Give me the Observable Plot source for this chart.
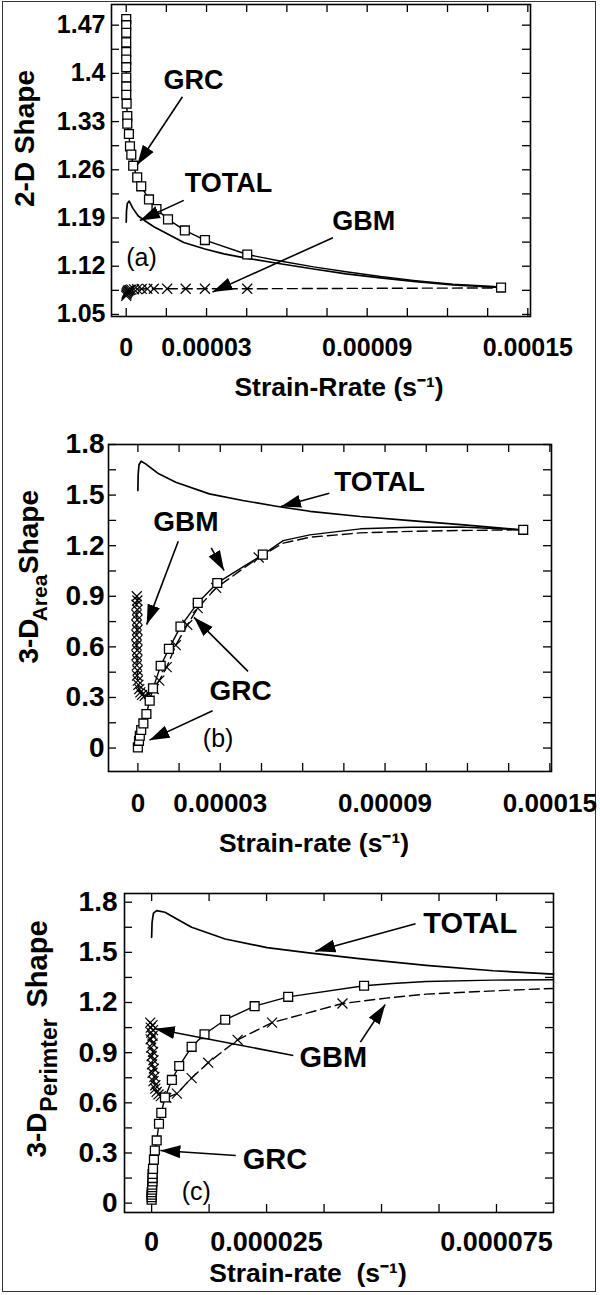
<!DOCTYPE html>
<html><head><meta charset="utf-8">
<script src="https://cdn.jsdelivr.net/npm/d3@7"></script>
<script src="https://cdn.jsdelivr.net/npm/@observablehq/plot@0.6"></script>
<style>
body{margin:0;background:#fff;}
#fig{position:relative;width:600px;height:1295px;background:#fff;overflow:hidden;}
#border{position:absolute;left:2px;top:1px;width:592px;height:1289px;border:1.5px solid #333;}
.panel{position:absolute;left:0;}
</style></head><body><div id="fig"><div id="border"></div></div>
<script>
// ---------- Panel (a): 2-D Shape ----------
const aGrcX = [0,0,0,0,0,0,0,0.00000002,0.00000002,0.00000002,0.00000015,0.0000004,0.0000004,0.000001,0.0000014,0.0000019,0.0000026,0.0000041,0.0000056,0.0000085,0.0000113,0.0000156,0.0000219,0.0000294,0.0000452,0.00014];
const aGrcY = [1.479,1.470,1.459,1.445,1.431,1.420,1.409,1.394,1.381,1.369,1.356,1.338,1.327,1.312,1.294,1.282,1.266,1.249,1.236,1.217,1.203,1.188,1.172,1.158,1.137,1.089];
const aGrcTailX = [0.0000569,0.000070,0.0000821,0.000095,0.0001072,0.000122,0.0001374];
const aGrcTailY = [1.128,1.119,1.112,1.105,1.0995,1.094,1.0905];
const aTotalX = [0,0.0000001,0.0000004,0.0000011,0.0000025,0.0000045,0.0000068,0.0000105,0.0000153,0.0000215,0.0000294,0.0000365,0.0000452,0.0000569,0.000070,0.0000821,0.000095,0.0001072,0.000122,0.0001374,0.00014];
const aTotalY = [1.184,1.200,1.211,1.2145,1.204,1.193,1.1865,1.177,1.167,1.1545,1.145,1.138,1.1315,1.124,1.116,1.109,1.103,1.098,1.093,1.0895,1.089];
const aGbmX = [0,0.0000001,0.0000002,0.0000004,0.0000006,0.0000009,0.0000013,0.0000019,0.0000029,0.0000041,0.0000058,0.0000079,0.0000103,0.0000153,0.0000222,0.0000294,0.0000452];
const aGbmY = [1.077,1.079,1.081,1.0825,1.084,1.085,1.0855,1.086,1.0865,1.0868,1.087,1.0872,1.0873,1.0873,1.0873,1.0873,1.0873];
const aGbmTailX = [0.00014];
const aGbmTailY = [1.0885];
const aXTicks = [0,0.000015,0.00003,0.000045,0.00006,0.000075,0.00009,0.000105,0.00012,0.000135,0.00015];
const aYTicks = [1.05,1.085,1.12,1.155,1.19,1.225,1.26,1.295,1.33,1.365,1.4,1.435,1.47];
const aXLabelVals = [0,0.00003,0.00009,0.00015];
const aXLabels = ["0","0.00003","0.00009","0.00015"];
const aYLabelVals = [1.05,1.12,1.19,1.26,1.33,1.4,1.47];
const aYLabels = ["1.05","1.12","1.19","1.26","1.33","1.4","1.47"];
const aNoteText = ["GRC","TOTAL","GBM"];
const aNoteX = [0.0000251,0.0000382,0.0000887];
const aNoteY = [1.390,1.240,1.185];
const aTag = ["(a)"]; const aTagX = [0.0000057]; const aTagY = [1.132];
const aArrX1 = [0.000021,0.0000215,0.0000772];
const aArrY1 = [1.366,1.2156,1.1614];
const aArrX2 = [0.0000041,0.0000051,0.0000322];
const aArrY2 = [1.267,1.1865,1.0824];

// ---------- Panel (b): 3-D Area Shape ----------
const bGrcX = [0,0.0000004,0.0000007,0.0000012,0.000002,0.0000031,0.0000043,0.0000055,0.0000083,0.0000113,0.0000155,0.0000218,0.0000289,0.0000455,0.0001403];
const bGrcY = [0.004,0.043,0.073,0.107,0.146,0.202,0.281,0.354,0.488,0.588,0.720,0.861,0.979,1.147,1.294];
const bGrcTailX = [0.0000529,0.0000626,0.000081,0.0000993,0.0001176];
const bGrcTailY = [1.230,1.264,1.300,1.309,1.311];
const bTotalX = [0,0.0000001,0.0000004,0.0000012,0.0000028,0.0000076,0.0000138,0.000026,0.0000382,0.0000504,0.0000626,0.000081,0.0000993,0.0001176,0.0001396];
const bTotalY = [1.527,1.62,1.68,1.701,1.685,1.626,1.576,1.507,1.468,1.434,1.404,1.373,1.349,1.325,1.294];
const bGbmX = [-0.0000004,-0.0000002,-0.0000005,-0.0000002,-0.0000005,-0.0000002,-0.0000005,-0.0000002,-0.0000005,-0.0000002,-0.0000005,-0.0000002,-0.0000005,-0.0000002,-0.0000004,-0.0000001,-0.0000003,0,0.0000002,0.0000005,0.0000009,0.0000015,0.0000025,0.000004,0.0000058,0.0000078,0.0000105,0.0000138,0.000018,0.0000218,0.0000285,0.000044];
const bGbmY = [0.90,0.875,0.85,0.82,0.79,0.76,0.73,0.70,0.67,0.64,0.61,0.58,0.55,0.52,0.49,0.46,0.43,0.40,0.375,0.35,0.33,0.315,0.31,0.32,0.35,0.40,0.48,0.61,0.73,0.83,0.95,1.13];
const bGbmTailX = [0.0000529,0.0000626,0.000081,0.0000993,0.0001176,0.0001403];
const bGbmTailY = [1.215,1.250,1.276,1.285,1.290,1.294];
const bXTicks = [0,0.000015,0.00003,0.000045,0.00006,0.000075,0.00009,0.000105,0.00012,0.000135,0.00015];
const bYTicks = [0,0.15,0.3,0.45,0.6,0.75,0.9,1.05,1.2,1.35,1.5,1.65,1.8];
const bXLabelVals = [0,0.00003,0.00009,0.00015];
const bXLabels = ["0","0.00003","0.00009","0.00015"];
const bYLabelVals = [0,0.3,0.6,0.9,1.2,1.5,1.8];
const bYLabels = ["0","0.3","0.6","0.9","1.2","1.5","1.8"];
const bNoteText = ["TOTAL","GBM","GRC"];
const bNoteX = [0.000088,0.0000175,0.0000374];
const bNoteY = [1.580,1.339,0.340];
const bTag = ["(b)"]; const bTagX = [0.0000292]; const bTagY = [0.055];
const bArrX1 = [0.0000697,0.0000147,0.0000267,0.0000401,0.0000272];
const bArrY1 = [1.511,1.226,1.187,0.455,0.221];
const bArrX2 = [0.0000521,0.0000032,0.0000314,0.0000204,0.0000042];
const bArrY2 = [1.432,0.732,1.052,0.775,0.047];

// ---------- Panel (c): 3-D Perimter Shape ----------
const cGrcX = [0,0,0,0,0.0000001,0.0000001,0.0000001,0.0000002,0.0000002,0.0000002,0.0000003,0.0000005,0.0000007,0.0000011,0.0000016,0.0000021,0.0000029,0.0000044,0.000006,0.0000087,0.0000115,0.000016,0.0000224,0.0000297,0.0000462];
const cGrcY = [0.02,0.035,0.05,0.065,0.08,0.095,0.11,0.13,0.15,0.175,0.205,0.26,0.315,0.375,0.475,0.54,0.632,0.737,0.82,0.935,1.01,1.097,1.178,1.234,1.30];
const cGrcTailX = [0.0000524,0.0000597,0.0000743,0.0000874];
const cGrcTailY = [1.314,1.326,1.334,1.336];
const cTotalX = [0,0.0000001,0.0000004,0.0000011,0.0000029,0.0000051,0.0000087,0.000016,0.0000251,0.0000342,0.0000451,0.0000597,0.0000743,0.0000874];
const cTotalY = [1.59,1.68,1.735,1.75,1.74,1.706,1.65,1.58,1.528,1.497,1.462,1.422,1.39,1.37];
const cGbmX = [-0.0000003,0.0000002,-0.0000002,0.0000003,-0.0000001,0.0000002,-0.0000002,0.0000002,-0.0000001,0.0000003,0,0.0000004,0.0000001,0.0000005,0.0000002,0.0000006,0.0000004,0.0000008,0.0000008,0.0000011,0.0000015,0.000002,0.0000032,0.0000055,0.0000087,0.0000123,0.0000187,0.0000262,0.0000415];
const cGbmY = [1.08,1.065,1.05,1.035,1.02,1.0,0.98,0.955,0.93,0.905,0.88,0.855,0.83,0.805,0.78,0.755,0.73,0.705,0.685,0.665,0.65,0.64,0.63,0.655,0.748,0.84,0.977,1.08,1.194];
const cGbmTailX = [0.000051,0.0000597,0.000067,0.0000779,0.0000874];
const cGbmTailY = [1.226,1.25,1.26,1.274,1.284];
const cXTicks = [0,0.0000125,0.000025,0.0000375,0.00005,0.0000625,0.000075];
const cYTicks = [0,0.15,0.3,0.45,0.6,0.75,0.9,1.05,1.2,1.35,1.5,1.65,1.8];
const cXLabelVals = [0,0.000025,0.000075];
const cXLabels = ["0","0.000025","0.000075"];
const cYLabelVals = [0,0.3,0.6,0.9,1.2,1.5,1.8];
const cYLabels = ["0","0.3","0.6","0.9","1.2","1.5","1.8"];
const cNoteText = ["TOTAL","GBM","GRC"];
const cNoteX = [0.0000693,0.0000395,0.0000268];
const cNoteY = [1.673,0.868,0.261];
const cTag = ["(c)"]; const cTagX = [0.0000097]; const cTagY = [0.064];
const cArrX1 = [0.0000574,0.0000308,0.0000454,0.0000183];
const cArrY1 = [1.671,0.883,0.963,0.285];
const cArrX2 = [0.0000356,0.0000007,0.0000508,0.0000019];
const cArrY2 = [1.507,1.043,1.188,0.315];

// ---------- helpers ----------
const FONT = "'Liberation Sans', Arial, Helvetica, sans-serif";
const pts = (xs, ys) => xs.map((x, i) => ({x, y: ys[i]}));
const notes = (t, xs, ys) => t.map((s, i) => ({t: s, x: xs[i], y: ys[i]}));
const arrows = (x1, y1, x2, y2) => x1.map((v, i) => ({x1: v, y1: y1[i], x2: x2[i], y2: y2[i]}));

function arrowHead(color) {
  const ns = "http://www.w3.org/2000/svg";
  const m = document.createElementNS(ns, "marker");
  m.setAttribute("viewBox", "-20 -7 20 14");
  m.setAttribute("markerWidth", "20");
  m.setAttribute("markerHeight", "14");
  m.setAttribute("markerUnits", "userSpaceOnUse");
  m.setAttribute("orient", "auto");
  m.setAttribute("refX", "0");
  m.setAttribute("refY", "0");
  const p = document.createElementNS(ns, "path");
  p.setAttribute("d", "M-20,-6.5L0,0L-20,6.5Z");
  p.setAttribute("fill", color);
  p.setAttribute("stroke", "none");
  m.appendChild(p);
  return m;
}

function panel(c) {
  const H = c.height - c.mt - c.mb;
  const W = 600 - c.ml - c.mr;
  const T = 8;
  const marks = [
    Plot.frame({stroke: "#000", strokeWidth: 1.6}),
    Plot.tickX(c.xTicks, {x: d => d, insetTop: H - T, strokeWidth: 1.3}),
    Plot.tickX(c.xTicks, {x: d => d, insetBottom: H - T, strokeWidth: 1.3}),
    Plot.tickY(c.yTicks, {y: d => d, insetRight: W - T, strokeWidth: 1.3}),
    Plot.tickY(c.yTicks, {y: d => d, insetLeft: W - T, strokeWidth: 1.3}),
    Plot.axisX({ticks: c.xLabelVals, tickFormat: d => c.xLabels[c.xLabelVals.indexOf(d)], tickSize: 0, tickPadding: c.xPad, fontSize: c.xTickFont, fontWeight: "bold", label: null}),
    Plot.axisY({ticks: c.yLabelVals, tickFormat: d => c.yLabels[c.yLabelVals.indexOf(d)], tickSize: 0, tickPadding: c.yPad, fontSize: c.yTickFont, fontWeight: "bold", label: null}),
    Plot.text([c.xTitle], {text: d => d, frameAnchor: "bottom", dx: c.xTitleDx, dy: c.xTitleDy, lineAnchor: "middle", fontSize: 26.5, fontWeight: "bold"}),
    ...c.yTitle.map(p => Plot.text([p.t], {text: d => d, frameAnchor: "left", rotate: -90, dx: p.dx, dy: p.dy, lineAnchor: "middle", textAnchor: "middle", fontSize: p.fs, fontWeight: "bold"})),
    Plot.line(c.total, {x: "x", y: "y", stroke: "#000", strokeWidth: 1.7}),
    Plot.line(c.grcLine, {x: "x", y: "y", stroke: "#000", strokeWidth: 1.4}),
    Plot.line(c.gbmLine, {x: "x", y: "y", stroke: "#000", strokeWidth: 1.4, strokeDasharray: "10,5"}),
    Plot.dot(c.gbm, {x: "x", y: "y", symbol: "times", r: 4.6, stroke: "#000", strokeWidth: 1.2}),
    Plot.dot(c.grc, {x: "x", y: "y", symbol: "square", r: 5, fill: "#fff", stroke: "#000", strokeWidth: 1.3}),
    Plot.link(c.arrows, {x1: "x1", y1: "y1", x2: "x2", y2: "y2", stroke: "#000", strokeWidth: 1.6, markerEnd: arrowHead}),
    Plot.text(c.notes, {x: "x", y: "y", text: "t", fontSize: c.noteFont, fontWeight: "bold", lineAnchor: "middle"}),
    Plot.text(c.tag, {x: "x", y: "y", text: "t", fontSize: 25, fontWeight: "normal", lineAnchor: "middle"})
  ];
  const svg = Plot.plot({
    width: 600, height: c.height,
    marginTop: c.mt, marginBottom: c.mb, marginLeft: c.ml, marginRight: c.mr,
    x: {domain: c.xDomain, label: null},
    y: {domain: c.yDomain, label: null},
    style: {fontFamily: FONT, color: "#000", background: "transparent", overflow: "visible"},
    marks
  });
  svg.classList.add("panel");
  svg.style.top = c.top + "px";
  document.getElementById("fig").appendChild(svg);
}

const aGrcPts = pts(aGrcX, aGrcY);
panel({
  top: 0, height: 420, mt: 4, mb: 104, ml: 111, mr: 70,
  xDomain: [-0.0000055, 0.000151], yDomain: [1.047, 1.50],
  xTicks: aXTicks, yTicks: aYTicks,
  xLabelVals: aXLabelVals, xLabels: aXLabels, yLabelVals: aYLabelVals, yLabels: aYLabels,
  xTickFont: 25, yTickFont: 25, xPad: 22, yPad: 6, noteFont: 27,
  xTitle: "Strain-Rrate (s\u207B\u00B9)", xTitleDx: 18, xTitleDy: 71,
  yTitle: [{t: "2-D Shape", dx: -86, dy: -22, fs: 28}],
  total: pts(aTotalX, aTotalY),
  grc: aGrcPts,
  grcLine: [...aGrcPts.slice(0, -1), ...pts(aGrcTailX, aGrcTailY), aGrcPts[aGrcPts.length - 1]],
  gbm: pts(aGbmX, aGbmY),
  gbmLine: [...pts(aGbmX, aGbmY), ...pts(aGbmTailX, aGbmTailY)],
  arrows: arrows(aArrX1, aArrY1, aArrX2, aArrY2),
  notes: notes(aNoteText, aNoteX, aNoteY),
  tag: notes(aTag, aTagX, aTagY)
});

const bGrcPts = pts(bGrcX, bGrcY);
panel({
  top: 420, height: 440, mt: 24, mb: 89, ml: 108, mr: 49,
  xDomain: [-0.0000107, 0.0001506], yDomain: [-0.139, 1.8],
  xTicks: bXTicks, yTicks: bYTicks,
  xLabelVals: bXLabelVals, xLabels: bXLabels, yLabelVals: bYLabelVals, yLabels: bYLabels,
  xTickFont: 26, yTickFont: 28, xPad: 22, yPad: 4, noteFont: 28,
  xTitle: "Strain-rate (s\u207B\u00B9)", xTitleDx: -16, xTitleDy: 72,
  yTitle: [{t: "3-D", dx: -79, dy: 33, fs: 28}, {t: "Area", dx: -68, dy: -10, fs: 21}, {t: "Shape", dx: -79, dy: -76, fs: 28}],
  total: pts(bTotalX, bTotalY),
  grc: bGrcPts,
  grcLine: [...bGrcPts.slice(0, -1), ...pts(bGrcTailX, bGrcTailY), bGrcPts[bGrcPts.length - 1]],
  gbm: pts(bGbmX, bGbmY),
  gbmLine: [...pts(bGbmX, bGbmY), ...pts(bGbmTailX, bGbmTailY)],
  arrows: arrows(bArrX1, bArrY1, bArrX2, bArrY2),
  notes: notes(bNoteText, bNoteX, bNoteY),
  tag: notes(bTag, bTagX, bTagY)
});

const cGrcPts = pts(cGrcX, cGrcY);
panel({
  top: 860, height: 435, mt: 33, mb: 83, ml: 124, mr: 47,
  xDomain: [-0.0000059, 0.0000874], yDomain: [-0.056, 1.852],
  xTicks: cXTicks, yTicks: cYTicks,
  xLabelVals: cXLabelVals, xLabels: cXLabels, yLabelVals: cYLabelVals, yLabels: cYLabels,
  xTickFont: 27, yTickFont: 28, xPad: 19, yPad: 7, noteFont: 29,
  xTitle: "Strain-rate\u00A0 (s\u207B\u00B9)", xTitleDx: -31, xTitleDy: 61,
  yTitle: [{t: "3-D", dx: -87, dy: 82, fs: 28}, {t: "Perimter", dx: -75, dy: 12, fs: 23}, {t: "Shape", dx: -87, dy: -89, fs: 29}],
  total: pts(cTotalX, cTotalY),
  grc: cGrcPts,
  grcLine: [...cGrcPts, ...pts(cGrcTailX, cGrcTailY)],
  gbm: pts(cGbmX, cGbmY),
  gbmLine: [...pts(cGbmX, cGbmY), ...pts(cGbmTailX, cGbmTailY)],
  arrows: arrows(cArrX1, cArrY1, cArrX2, cArrY2),
  notes: notes(cNoteText, cNoteX, cNoteY),
  tag: notes(cTag, cTagX, cTagY)
});
</script>
</body></html>
